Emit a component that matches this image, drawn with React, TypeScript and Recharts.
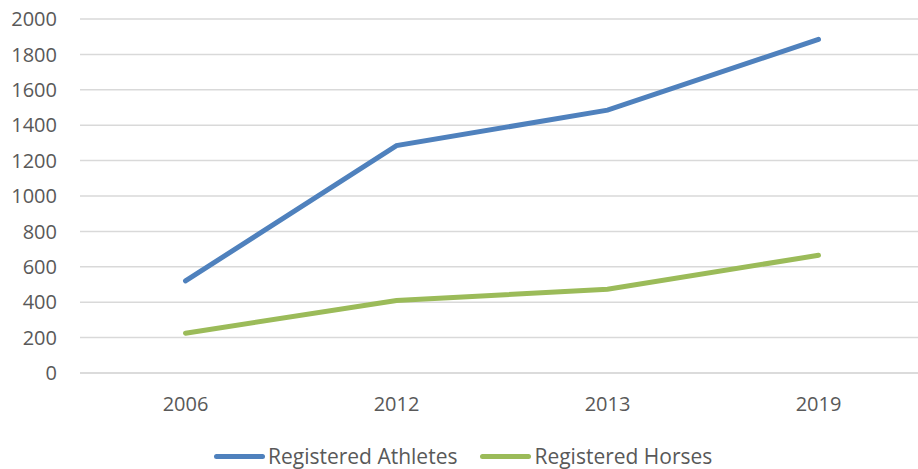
import { LineChart, Line, XAxis, YAxis, CartesianGrid } from "recharts";

const years = ["2006", "2012", "2013", "2019"];
const athletes = [520, 1285, 1485, 1885];
const horses = [225, 410, 473, 665];
const yTicks = [0, 200, 400, 600, 800, 1000, 1200, 1400, 1600, 1800, 2000];

const data = years.map((year, i) => ({
  year,
  athletes: athletes[i],
  horses: horses[i],
}));

const FONT = "'Open Sans', 'Liberation Sans', sans-serif";
const TEXT = "#595959";
const BLUE = "#4F81BD";
const GREEN = "#9BBB59";

const series = [
  { key: "athletes", name: "Registered Athletes", color: BLUE },
  { key: "horses", name: "Registered Horses", color: GREEN },
];

function ChartLegend() {
  return (
    <div
      style={{
        position: "absolute",
        left: 214,
        top: 444,
        height: 24,
        lineHeight: "24px",
        display: "flex",
        alignItems: "center",
        fontFamily: FONT,
        fontSize: 21,
        color: TEXT,
        whiteSpace: "nowrap",
      }}
    >
      {series.map((s, i) => (
        <div key={s.key} style={{ display: "flex", alignItems: "center", marginRight: i === 0 ? 23 : 0 }}>
          <span style={{ width: 51, height: 5, borderRadius: 3, background: s.color, marginRight: 3 }} />
          <span>{s.name}</span>
        </div>
      ))}
    </div>
  );
}

export default function App() {
  return (
    <div style={{ position: "absolute", left: 0, top: 0, width: 918, height: 469, overflow: "hidden", background: "#fff" }}>
      <LineChart width={924} height={469} data={data} margin={{ top: 19, right: 0, bottom: 46, left: 0 }}>
        <CartesianGrid vertical={false} stroke="#D9D9D9" strokeWidth={1.5} />
        <XAxis
          dataKey="year"
          padding={{ left: 105.5, right: 105.5 }}
          axisLine={{ stroke: "#D9D9D9", strokeWidth: 1.5 }}
          tickLine={false}
          tickMargin={18}
          height={50}
          tick={{ fill: TEXT, fontSize: 20, fontFamily: FONT }}
        />
        <YAxis
          domain={[0, 2000]}
          ticks={yTicks}
          width={80}
          axisLine={false}
          tickLine={false}
          tickMargin={17}
          tick={{ fill: TEXT, fontSize: 20, fontFamily: FONT }}
        />
        {series.map((s) => (
          <Line
            key={s.key}
            type="linear"
            dataKey={s.key}
            name={s.name}
            stroke={s.color}
            strokeWidth={5}
            strokeLinecap="round"
            dot={false}
            activeDot={false}
            isAnimationActive={false}
          />
        ))}
      </LineChart>
      <ChartLegend />
    </div>
  );
}
